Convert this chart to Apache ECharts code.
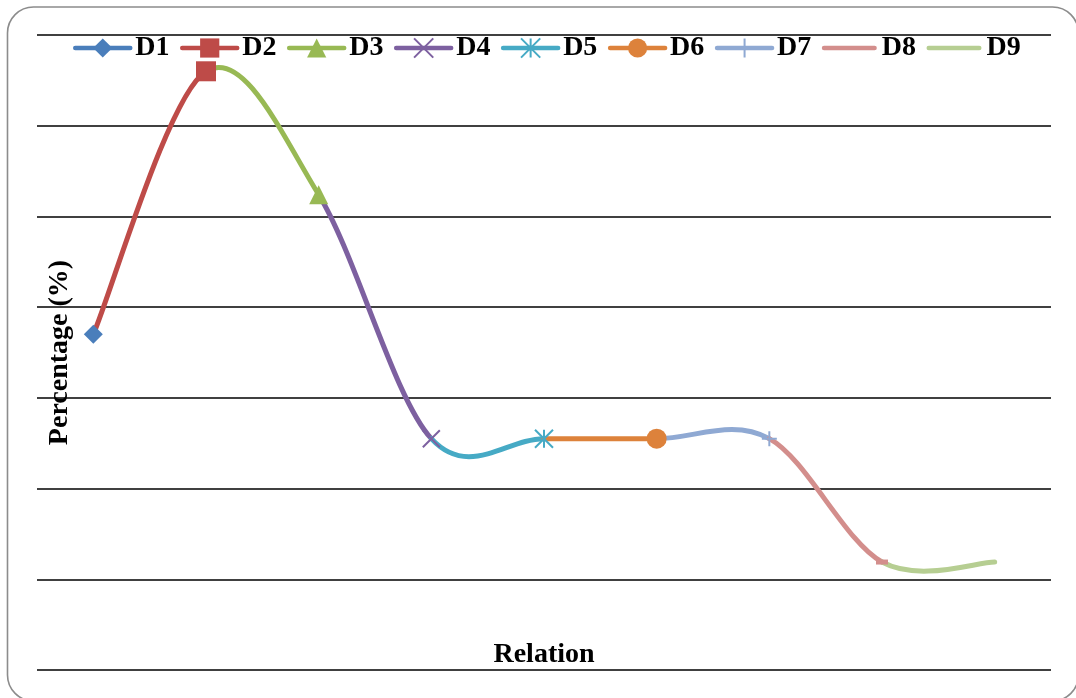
<!DOCTYPE html>
<html>
<head>
<meta charset="utf-8">
<script src="https://cdn.jsdelivr.net/npm/echarts@6/dist/echarts.min.js"></script>
<style>
  html, body { margin: 0; padding: 0; background: #ffffff; }
  #chart { width: 1076px; height: 698px; }
</style>
</head>
<body>
<div id="chart"></div>
<script>
// Relation steps and their percentage values
const relationSteps = ['D1', 'D2', 'D3', 'D4', 'D5', 'D6', 'D7', 'D8', 'D9'];
const percentages = [37, 66, 52.4, 25.5, 25.5, 25.5, 25.5, 11.9, 11.9];
// Value axis ticks (gridlines only, labels hidden)
const yTicks = [0, 10, 20, 30, 40, 50, 60, 70];

// Per-step styling
const stepColors = ['#4A7EBB', '#BE4B48', '#98B954', '#7D60A0', '#46AAC5', '#DD823B', '#8FA9D3', '#D38E8C', '#B6CE92'];
const X_MARK = 'path://M0,0L10,10M10,0L0,10';
const STAR_MARK = 'path://M0,0L10,10M10,0L0,10M5,0L5,10';
const PLUS_MARK = 'path://M5,0L5,10M0,5L10,5';
const stepSymbols = ['diamond', 'rect', 'triangle', X_MARK, STAR_MARK, 'circle', PLUS_MARK, 'rect', 'none'];
const stepSymbolSizes = [19, 20, 19, 17, 18, 20, 15, [12, 5], 0];
const BAR_ICON = 'path://M2.25,0h50.5a2.25,2.25 0 0 1 0,4.5h-50.5a2.25,2.25 0 0 1 0,-4.5z';

const FONT = 'Liberation Serif';
const LINE_W = 5;
const chart = echarts.init(document.getElementById('chart'));

// Smooth curve through all steps (cardinal spline, one Bezier per section);
// the section ending at step i takes the colour of step i.
const curve = {
  name: 'curve',
  type: 'custom',
  data: percentages.map((v, i) => [i, v]),
  encode: { x: 0, y: 1 },
  z: 2,
  silent: true,
  renderItem(params, api) {
    const i = params.dataIndex;
    if (i === 0) return null;
    const n = percentages.length;
    const pt = (j) => {
      const k = Math.max(0, Math.min(n - 1, j));
      return api.coord([k, percentages[k]]);
    };
    const p0 = pt(i - 2), p1 = pt(i - 1), p2 = pt(i), p3 = pt(i + 1);
    const s = 1 / 6;
    return {
      type: 'bezierCurve',
      shape: {
        x1: p1[0], y1: p1[1],
        cpx1: p1[0] + (p2[0] - p0[0]) * s, cpy1: p1[1] + (p2[1] - p0[1]) * s,
        cpx2: p2[0] - (p3[0] - p1[0]) * s, cpy2: p2[1] - (p3[1] - p1[1]) * s,
        x2: p2[0], y2: p2[1]
      },
      style: { stroke: stepColors[i], lineWidth: LINE_W, fill: null, lineCap: 'round' }
    };
  }
};

// Marker series: one point per step, drawn on top of the curve
const markers = relationSteps.map((name, i) => {
  const isPath = typeof stepSymbols[i] === 'string' && stepSymbols[i].indexOf('path://') === 0;
  return {
    name,
    type: 'line',
    data: percentages.map((v, j) => (j === i ? v : null)),
    symbol: stepSymbols[i],
    symbolSize: stepSymbolSizes[i],
    showSymbol: stepSymbols[i] !== 'none',
    lineStyle: { color: stepColors[i], width: LINE_W, cap: 'round' },
    itemStyle: {
      color: stepColors[i],
      borderColor: stepColors[i],
      borderWidth: isPath ? 2 : 0
    },
    z: 3,
    silent: true
  };
});

chart.setOption({
  animation: false,
  backgroundColor: '#ffffff',
  graphic: [{
    type: 'rect',
    shape: { x: 7.5, y: 7, width: 1071, height: 694, r: 26 },
    style: { fill: 'none', stroke: '#8c8c8c', lineWidth: 1.6 },
    silent: true,
    z: -1
  }],
  legend: {
    left: 73,
    top: 34,
    padding: 0,
    itemWidth: 55,
    itemHeight: 24,
    itemGap: 10.5,
    lineStyle: { width: 4.5, cap: 'round' },
    textStyle: { fontFamily: FONT, fontWeight: 'bold', fontSize: 28, color: '#000' },
    data: relationSteps.map((name, i) => (i >= 7 ? { name, icon: BAR_ICON } : name)),
    selectedMode: false
  },
  grid: { left: 37, right: 25, top: 35, bottom: 28 },
  xAxis: {
    type: 'category',
    data: relationSteps,
    boundaryGap: true,
    axisLine: { show: false },
    axisTick: { show: false },
    axisLabel: { show: false },
    splitLine: { show: false },
    name: 'Relation',
    nameLocation: 'middle',
    nameGap: -29,
    nameTextStyle: { fontFamily: FONT, fontWeight: 'bold', fontSize: 28, color: '#000' }
  },
  yAxis: {
    type: 'value',
    min: yTicks[0],
    max: yTicks[yTicks.length - 1],
    interval: yTicks[1] - yTicks[0],
    axisLine: { show: false },
    axisTick: { show: false },
    axisLabel: { show: false },
    splitLine: { show: true, lineStyle: { color: '#000', width: 1.6 } },
    name: 'Percentage (%)',
    nameLocation: 'middle',
    nameGap: -37,
    nameTextStyle: { fontFamily: FONT, fontWeight: 'bold', fontSize: 28, color: '#000' }
  },
  series: [curve, ...markers]
});
</script>
</body>
</html>
